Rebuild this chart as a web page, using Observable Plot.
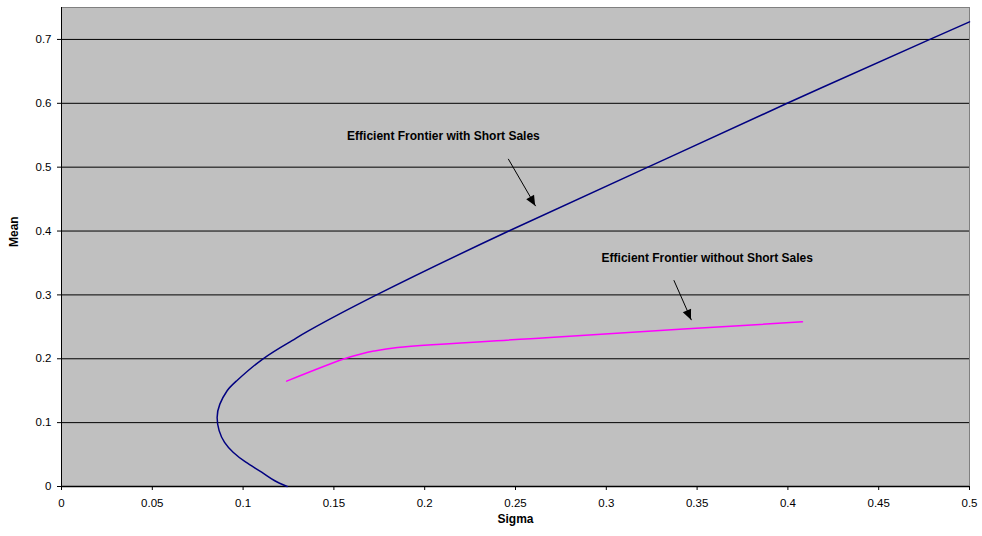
<!DOCTYPE html>
<html>
<head>
<meta charset="utf-8">
<script src="https://cdn.jsdelivr.net/npm/d3@7"></script>
<script src="https://cdn.jsdelivr.net/npm/@observablehq/plot@0.6"></script>
<style>
  html, body { margin: 0; padding: 0; background: #fff; }
  svg { display: block; }
</style>
</head>
<body>
<div id="chart"></div>
<script>
// Efficient frontier with short sales (sigma, mean), ordered along the curve
const withShortSigma = [0.1243, 0.1172, 0.1102, 0.1015, 0.0945, 0.0898, 0.0868, 0.0857, 0.0872, 0.0912, 0.0965, 0.1110, 0.1267, 0.1362, 0.1735, 0.2463, 0.3229, 0.3996, 0.4782, 0.5];
const withShortMean  = [0.0,    0.0094, 0.0224, 0.038,  0.0536, 0.069,  0.0875, 0.108,  0.129,  0.15,   0.1656, 0.2,    0.228,  0.244,  0.3,    0.4,    0.5,    0.6,    0.7,    0.7275];

// Efficient frontier without short sales
const noShortSigma = [0.124, 0.1558, 0.1644, 0.172, 0.185, 0.2668, 0.3425, 0.408];
const noShortMean  = [0.165, 0.200,  0.207,  0.212, 0.2177, 0.233, 0.2465, 0.2578];

// Axis ticks
const xTicks = [0, 0.05, 0.1, 0.15, 0.2, 0.25, 0.3, 0.35, 0.4, 0.45, 0.5];
const xTickLabels = ["0", "0.05", "0.1", "0.15", "0.2", "0.25", "0.3", "0.35", "0.4", "0.45", "0.5"];
const yTicks = [0, 0.1, 0.2, 0.3, 0.4, 0.5, 0.6, 0.7];
const yTickLabels = ["0", "0.1", "0.2", "0.3", "0.4", "0.5", "0.6", "0.7"];

// Annotations
const noteText = ["Efficient Frontier with Short Sales", "Efficient Frontier without Short Sales"];
const noteX = [0.2103, 0.3556];
const noteY = [0.548, 0.3583];
const arrowX1 = [0.246, 0.3372];
const arrowY1 = [0.513, 0.323];
const arrowX2 = [0.2611, 0.3469];
const arrowY2 = [0.439, 0.2605];

const withShort = withShortSigma.map((s, i) => ({sigma: s, mean: withShortMean[i]}));
const noShort = noShortSigma.map((s, i) => ({sigma: s, mean: noShortMean[i]}));
const notes = noteText.map((t, i) => ({text: t, x: noteX[i], y: noteY[i]}));
const arrows = arrowX1.map((x, i) => ({x1: x, y1: arrowY1[i], x2: arrowX2[i], y2: arrowY2[i]}));

const FONT = "Arial, 'Liberation Sans', sans-serif";

// custom filled arrowheads
function arrowHeads(index, scales) {
  const g = document.createElementNS("http://www.w3.org/2000/svg", "g");
  const sx = scales.x, sy = scales.y;
  for (const a of arrows) {
    const x1 = sx(a.x1), y1 = sy(a.y1), x2 = sx(a.x2), y2 = sy(a.y2);
    const dx = x2 - x1, dy = y2 - y1, L = Math.hypot(dx, dy);
    const ux = dx / L, uy = dy / L;
    const len = 10, hw = 4.5;
    const bx = x2 - ux * len, by = y2 - uy * len;
    const p = document.createElementNS("http://www.w3.org/2000/svg", "path");
    p.setAttribute("d", `M${x2},${y2}L${bx - uy * hw},${by + ux * hw}L${bx + uy * hw},${by - ux * hw}Z`);
    p.setAttribute("fill", "black");
    g.appendChild(p);
  }
  return g;
}

const chart = Plot.plot({
  width: 982,
  height: 536,
  marginLeft: 61,
  marginRight: 13,
  marginTop: 7,
  marginBottom: 50,
  style: {fontFamily: FONT, fontSize: "11.5px", color: "black", background: "white", overflow: "visible"},
  x: {domain: [0, 0.5]},
  y: {domain: [0, 0.75]},
  marks: [
    Plot.frame({fill: "#c0c0c0"}),
    Plot.ruleY(yTicks.filter(d => d > 0), {stroke: "black", strokeWidth: 1}),
    Plot.frame({stroke: "#808080", strokeWidth: 1}),
    Plot.ruleX([0], {stroke: "black", strokeWidth: 1}),
    Plot.ruleY([0], {stroke: "black", strokeWidth: 1.5}),
    Plot.axisX({ticks: xTicks, tickFormat: (d, i) => xTickLabels[i], tickSize: 4, tickPadding: 8, label: null, fontSize: 11.5}),
    Plot.axisY({ticks: yTicks, tickFormat: (d, i) => yTickLabels[i], tickSize: 4, tickPadding: 6, label: null, fontSize: 11.5}),
    Plot.line(withShort, {x: "sigma", y: "mean", stroke: "#000080", strokeWidth: 1.5, curve: "natural"}),
    Plot.line(noShort, {x: "sigma", y: "mean", stroke: "#ff00ff", strokeWidth: 1.5, curve: "catmull-rom"}),
    Plot.link(arrows, {x1: "x1", y1: "y1", x2: "x2", y2: "y2", stroke: "black", strokeWidth: 1}),
    arrowHeads,
    Plot.text(notes, {x: "x", y: "y", text: "text", fontWeight: "bold", fontSize: 12, fill: "black"}),
    Plot.text(["Sigma"], {frameAnchor: "bottom", dy: 36, text: d => d, fontWeight: "bold", fontSize: 12, fill: "black"}),
    Plot.text(["Mean"], {frameAnchor: "left", dx: -47, rotate: -90, text: d => d, fontWeight: "bold", fontSize: 12, fill: "black"})
  ]
});

document.getElementById("chart").appendChild(chart);
</script>
</body>
</html>
